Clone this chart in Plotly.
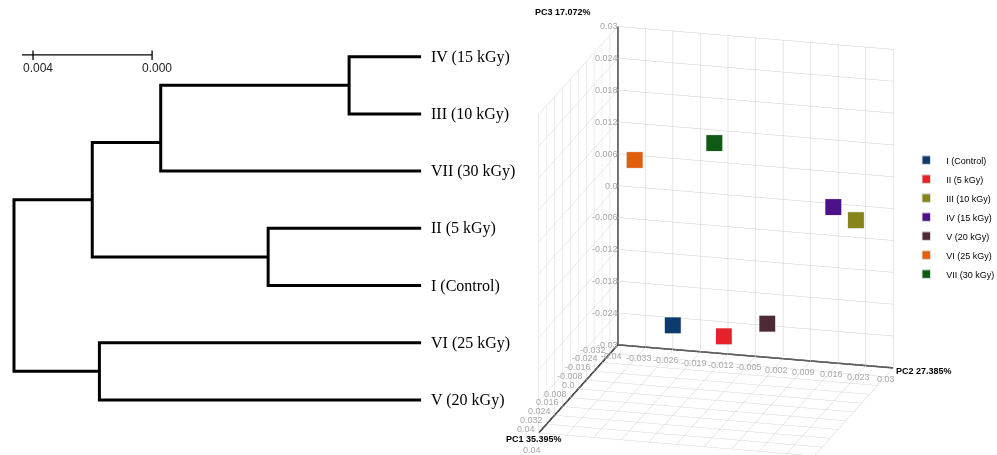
import plotly.graph_objects as go

# ---------------- Dendrogram data ----------------
LEAF_LABELS = ["IV (15 kGy)", "III (10 kGy)", "VII (30 kGy)", "II (5 kGy)",
               "I (Control)", "VI (25 kGy)", "V (20 kGy)"]
# merges: (left child, right child, height); leaves are 0..6, new nodes 7..
MERGE_LEFT = [0, 7, 3, 8, 5, 10]
MERGE_RIGHT = [1, 2, 4, 9, 6, 11]
MERGE_HEIGHT = [0.00242, 0.00875, 0.00514, 0.01105, 0.01081, 0.01368]
SCALE_BAR_VALUES = [0.004, 0.000]
SCALE_BAR_LABELS = ["0.004", "0.000"]

# ---------------- PCA data ----------------
GROUPS = ["I (Control)", "II (5 kGy)", "III (10 kGy)", "IV (15 kGy)",
          "V (20 kGy)", "VI (25 kGy)", "VII (30 kGy)"]
PC1 = [0.020, 0.028, -0.010, -0.015, 0.012, -0.025, -0.018]
PC2 = [-0.011, 0.004, 0.028, 0.021, 0.011, -0.032, -0.010]
PC3 = [-0.012, -0.0115, 0.004, 0.005, -0.012, 0.0085, 0.0145]
COLORS = ["#0d3b6e", "#e8202a", "#85851a", "#4b128a", "#4e2a35", "#e2600c", "#0f5a14"]

PC1_TICKS = [-0.04, -0.032, -0.024, -0.016, -0.008, 0.0, 0.008, 0.016, 0.024, 0.032, 0.04]
PC2_TICKS = [-0.04, -0.033, -0.026, -0.019, -0.012, -0.005, 0.002, 0.009, 0.016, 0.023, 0.03]
PC3_TICKS = [-0.03, -0.024, -0.018, -0.012, -0.006, 0.0, 0.006, 0.012, 0.018, 0.024, 0.03]
PC1_TITLE = "PC1 35.395%"
PC2_TITLE = "PC2 27.385%"
PC3_TITLE = "PC3 17.072%"

fig = go.Figure()

# ---- build dendrogram path ----
n_leaf = len(LEAF_LABELS)
node_h = {i: 0.0 for i in range(n_leaf)}
node_first = {i: i for i in range(n_leaf)}
node_last = {i: i for i in range(n_leaf)}
node_y = {i: float(i) for i in range(n_leaf)}
xs, ys = [], []
for k, (l, r, h) in enumerate(zip(MERGE_LEFT, MERGE_RIGHT, MERGE_HEIGHT)):
    nid = n_leaf + k
    node_h[nid] = h
    node_first[nid] = node_first[l]
    node_last[nid] = node_last[r]
    node_y[nid] = (node_last[l] + node_first[r]) / 2.0
    xs += [node_h[l], h, h, node_h[r], None]
    ys += [node_y[l], node_y[l], node_y[r], node_y[r], None]

fig.add_trace(go.Scatter(x=xs, y=ys, mode="lines",
                         line=dict(color="black", width=3),
                         hoverinfo="skip", showlegend=False,
                         xaxis="x", yaxis="y"))

# scale bar
SCALE_ANCHOR = 0.00904
sb_x = [SCALE_ANCHOR + v for v in SCALE_BAR_VALUES]
sx, sy = [sb_x[0] + 0.00037, sb_x[1], None], [-0.03, -0.03, None]
for xv in sb_x:
    sx += [xv, xv, None]
    sy += [-0.11, 0.06, None]
fig.add_trace(go.Scatter(x=sx, y=sy, mode="lines",
                         line=dict(color="black", width=1.3),
                         hoverinfo="skip", showlegend=False,
                         xaxis="x", yaxis="y"))

annotations = []
for xv, t in zip(sb_x, SCALE_BAR_LABELS):
    annotations.append(dict(x=xv, y=0.19, xref="x", yref="y", text=t,
                            showarrow=False, xanchor="center", xshift=5,
                            font=dict(family="Liberation Sans", size=12, color="#222")))
for i, lab in enumerate(LEAF_LABELS):
    annotations.append(dict(x=0, y=i, xref="x", yref="y", text=lab,
                            showarrow=False, xanchor="left", xshift=8,
                            font=dict(family="Liberation Serif", size=16, color="black")))

# ---- PCA 3D ----
for g, a, b, c, col in zip(GROUPS, PC1, PC2, PC3, COLORS):
    fig.add_trace(go.Scatter3d(x=[b], y=[a], z=[c], mode="markers", name=g,
                               marker=dict(symbol="square", size=8.5, color=col,
                                           line=dict(color="#dddddd", width=1)),
                               hoverinfo="skip", scene="scene"))

# axis lines at the back-left-bottom corner
x0, x1 = PC2_TICKS[0], PC2_TICKS[-1]
yb, yf = PC1_TICKS[0], PC1_TICKS[-1]
z0, z1 = PC3_TICKS[0], PC3_TICKS[-1]
fig.add_trace(go.Scatter3d(x=[x0, x0, x1, x0, x0], y=[yb, yb, yb, yb, yf],
                           z=[z1, z0, z0, z0, z0], mode="lines",
                           line=dict(color="black", width=3),
                           hoverinfo="skip", showlegend=False, scene="scene"))

axis_common = dict(title=dict(text=""), showbackground=False, zeroline=False,
                   showline=False, gridcolor="#cdcdcd", gridwidth=1,
                   showspikes=False, ticks="", showticklabels=False)

title_font = dict(family="Liberation Sans", size=9, color="black")
tick_font = dict(family="Liberation Sans", size=9, color="#a8a8a8")
scene_ann = [
    dict(x=x0, y=yb, z=z1, text="<b>" + PC3_TITLE + "</b>", showarrow=False,
         xanchor="center", xshift=-54, yshift=14, font=title_font),
    dict(x=x1, y=yb, z=z0, text="<b>" + PC2_TITLE + "</b>", showarrow=False,
         xanchor="left", xshift=2, yshift=-3, font=title_font),
    dict(x=x0, y=yf, z=z0, text="<b>" + PC1_TITLE + "</b>", showarrow=False,
         xanchor="center", xshift=-4, yshift=-6, font=title_font),
]
# tick labels along the back / left edges
for v in PC3_TICKS:
    scene_ann.append(dict(x=x0, y=yb, z=v, text=str(v), showarrow=False,
                          xanchor="right", xshift=3, font=tick_font))
for v in PC2_TICKS:
    scene_ann.append(dict(x=v, y=yb, z=z0, text=str(v), showarrow=False,
                          xanchor="center", xshift=-6, yshift=-11, font=tick_font))
for v in PC1_TICKS[1:]:
    scene_ann.append(dict(x=x0, y=v, z=z0, text=str(v), showarrow=False,
                          xanchor="right", xshift=-1, yshift=4, font=tick_font))
scene_ann.append(dict(x=x0, y=yf, z=z0, text=str(PC1_TICKS[-1]), showarrow=False,
                      xanchor="center", xshift=-6, yshift=-17, font=tick_font))

dist = 3.0
zoom = 1.47
e = (0.2517, -0.9184, 0.305)
cz = 0.063
fig.update_layout(
    width=997, height=455,
    margin=dict(l=0, r=0, t=0, b=0, autoexpand=False),
    paper_bgcolor="white", plot_bgcolor="white",
    xaxis=dict(domain=[0, 0.5], range=[0.01415, -0.0026], visible=False, fixedrange=True),
    yaxis=dict(domain=[0, 1], range=[6.963, -0.991], visible=False, fixedrange=True),
    annotations=annotations,
    scene=dict(
        domain=dict(x=[0.49, 0.945], y=[0, 1]),
        xaxis=dict(range=[x0, x1], tickvals=PC2_TICKS, **axis_common),
        yaxis=dict(range=[yf, yb], tickvals=PC1_TICKS, **axis_common),
        zaxis=dict(range=[z0, z1], tickvals=PC3_TICKS, **axis_common),
        aspectmode="manual",
        aspectratio=dict(x=0.854 * zoom, y=0.895 * zoom, z=1.0 * zoom),
        camera=dict(eye=dict(x=e[0] * dist, y=e[1] * dist, z=e[2] * dist + cz),
                    up=dict(x=0, y=0, z=1), center=dict(x=0, y=0, z=cz),
                    projection=dict(type="orthographic")),
        annotations=scene_ann,
    ),
    legend=dict(x=0.909, y=0.68, xanchor="left", yanchor="top",
                font=dict(family="Liberation Sans", size=9, color="black"),
                tracegroupgap=0, itemwidth=30, bgcolor="rgba(0,0,0,0)"),
    showlegend=True,
)

fig.write_html("out.html", config={"displayModeBar": False})
